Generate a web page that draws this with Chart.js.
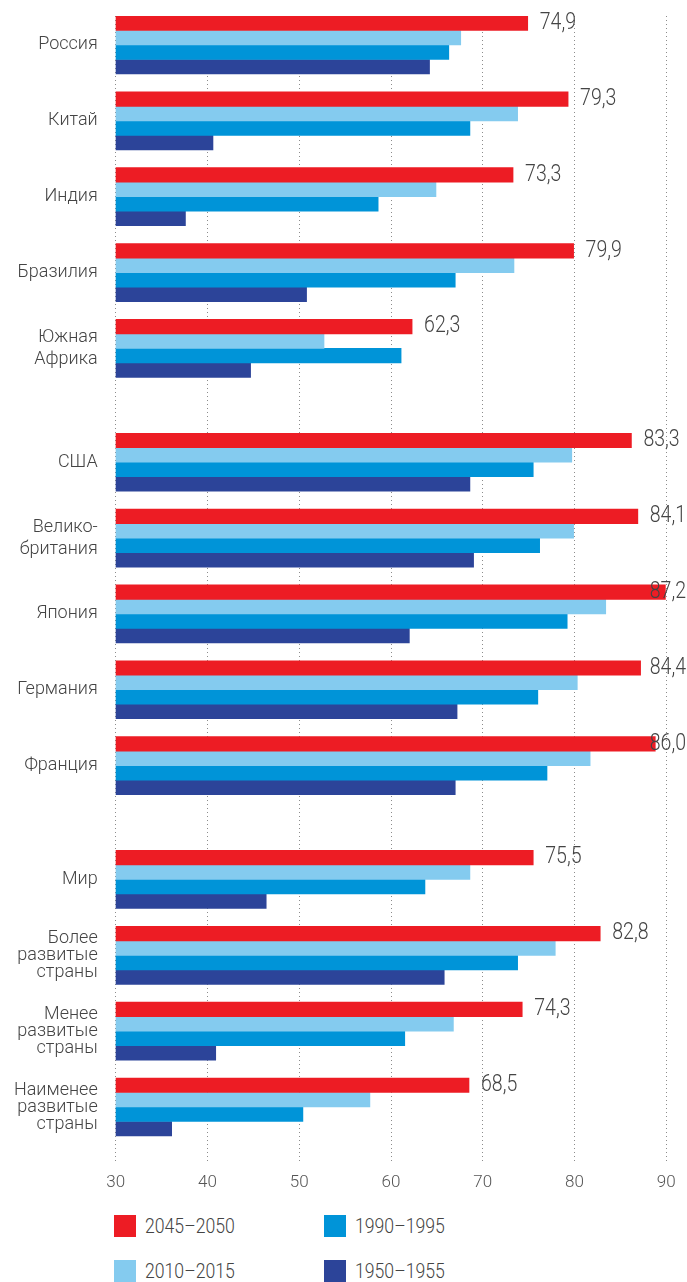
<!DOCTYPE html>
<html>
<head>
<meta charset="utf-8">
<script src="https://cdn.jsdelivr.net/npm/chart.js@4.4.0/dist/chart.umd.min.js"></script>
<style>
  body { margin: 0; background: #fff; }
  #wrap { position: relative; width: 687px; height: 1282px; overflow: hidden; font-family: Roboto, sans-serif; }
  #legend { position: absolute; left: 114px; top: 1215px; width: 500px; height: 80px; }
  .item { position: absolute; display: flex; align-items: center; font-size: 21px; font-weight: 300; color: #444; line-height: 22px; white-space: nowrap; }
  .item span { display: inline-block; transform: scaleX(0.84); transform-origin: left center; }
  .box { width: 22px; height: 22px; margin-right: 9px; }
</style>
</head>
<body>
<div id="wrap">
  <canvas id="chart" width="687" height="1200"></canvas>
  <div id="legend"></div>
</div>
<script>
// data
const categories = ['Россия', 'Китай', 'Индия', 'Бразилия', 'Южная\nАфрика',
  'США', 'Велико-\nбритания', 'Япония', 'Германия', 'Франция',
  'Мир', 'Более\nразвитые\nстраны', 'Менее\nразвитые\nстраны', 'Наименее\nразвитые\nстраны'];
const groups = [0, 0, 0, 0, 0, 1, 1, 1, 1, 1, 2, 2, 2, 2];
const periods = ['2045–2050', '2010–2015', '1990–1995', '1950–1955'];
// bar lengths as drawn in the picture
const s2045 = [74.9, 79.3, 73.3, 79.9, 62.3, 86.2, 86.9, 89.9, 87.2, 88.8, 75.5, 82.8, 74.3, 68.5];
const s2010 = [67.6, 73.8, 64.9, 73.4, 52.7, 79.7, 79.9, 83.4, 80.3, 81.7, 68.6, 77.9, 66.8, 57.7];
const s1990 = [66.3, 68.6, 58.6, 67.0, 61.1, 75.5, 76.2, 79.2, 76.0, 77.0, 63.7, 73.8, 61.5, 50.4];
const s1950 = [64.2, 40.6, 37.6, 50.8, 44.7, 68.6, 69.0, 62.0, 67.2, 67.0, 46.4, 65.8, 40.9, 36.1];
// printed values for 2045–2050
const valueLabels = ['74,9', '79,3', '73,3', '79,9', '62,3', '83,3', '84,1', '87,2', '84,4', '86,0', '75,5', '82,8', '74,3', '68,5'];
const xTicks = [30, 40, 50, 60, 70, 80, 90];

const colors = ['#ed1c24', '#84cbef', '#0094d8', '#2c4499'];
const series = [s2045, s2010, s1990, s1950];

// row position: one unit per country, half a unit between groups
const rows = categories.map((c, i) => i + groups[i] * 0.5);

// value next to the red bar, narrow like the original type, kept inside the canvas
const valueLabelPlugin = {
  id: 'valueLabels',
  afterDatasetsDraw(chart) {
    const ctx = chart.ctx;
    const meta = chart.getDatasetMeta(0);
    const sx = 0.85;
    meta.data.forEach((bar, i) => {
      ctx.save();
      ctx.font = '300 23px Roboto';
      ctx.fillStyle = '#444';
      ctx.textBaseline = 'middle';
      ctx.textAlign = 'left';
      const w = ctx.measureText(valueLabels[i]).width * sx;
      const x = Math.min(bar.x + 12, chart.width - 1 - w);
      ctx.translate(x, bar.y);
      ctx.scale(sx, 1);
      ctx.fillText(valueLabels[i], 0, 0);
      ctx.restore();
    });
  }
};

const data = {
  datasets: series.map((s, k) => ({
    label: periods[k],
    data: s.map((v, i) => ({ x: v, y: rows[i] })),
    backgroundColor: colors[k],
    barThickness: 14.5,
    borderWidth: 0
  }))
};

new Chart(document.getElementById('chart'), {
  type: 'bar',
  data,
  plugins: [valueLabelPlugin],
  options: {
    indexAxis: 'y',
    responsive: false,
    animation: false,
    devicePixelRatio: 1,
    layout: { padding: { top: 16, right: 20.7, left: 0, bottom: 0 } },
    plugins: { legend: { display: false }, tooltip: { enabled: false } },
    scales: {
      x: {
        type: 'linear', min: 30, max: 90,
        grid: { color: '#8c8c8c', lineWidth: 1, drawTicks: false },
        border: { display: false, dash: [1, 3] },
        afterBuildTicks: s => { s.ticks = xTicks.map(v => ({ value: v })); },
        afterFit: s => { s.height = 37; },
        ticks: { padding: 10, color: '#555', font: { family: 'Roboto', size: 17, weight: '300' } }
      },
      y: {
        type: 'linear', reverse: true, offset: false,
        min: -0.382, max: 14.738,
        grid: { display: false, drawTicks: false },
        border: { display: false },
        afterBuildTicks: s => { s.ticks = rows.map(v => ({ value: v })); },
        afterFit: s => { s.width = 115.7; s.paddingTop = 0; s.paddingBottom = 0; },
        ticks: {
          autoSkip: false, padding: 18, color: '#444',
          callback: (v, i) => categories[i].split('\n'),
          font: c => {
            const n = (categories[c.index] || '').split('\n').length;
            return { family: 'Roboto', size: 18, weight: '300', lineHeight: n > 2 ? '17px' : '22px' };
          }
        }
      }
    }
  }
});

// legend, two columns
const legend = document.getElementById('legend');
periods.forEach((p, k) => {
  const item = document.createElement('div');
  item.className = 'item';
  item.style.left = (Math.floor(k / 2) * 210) + 'px';
  item.style.top = ((k % 2) * 45) + 'px';
  item.innerHTML = '<div class="box" style="background:' + colors[k] + '"></div><span>' + p + '</span>';
  legend.appendChild(item);
});
</script>
</body>
</html>
